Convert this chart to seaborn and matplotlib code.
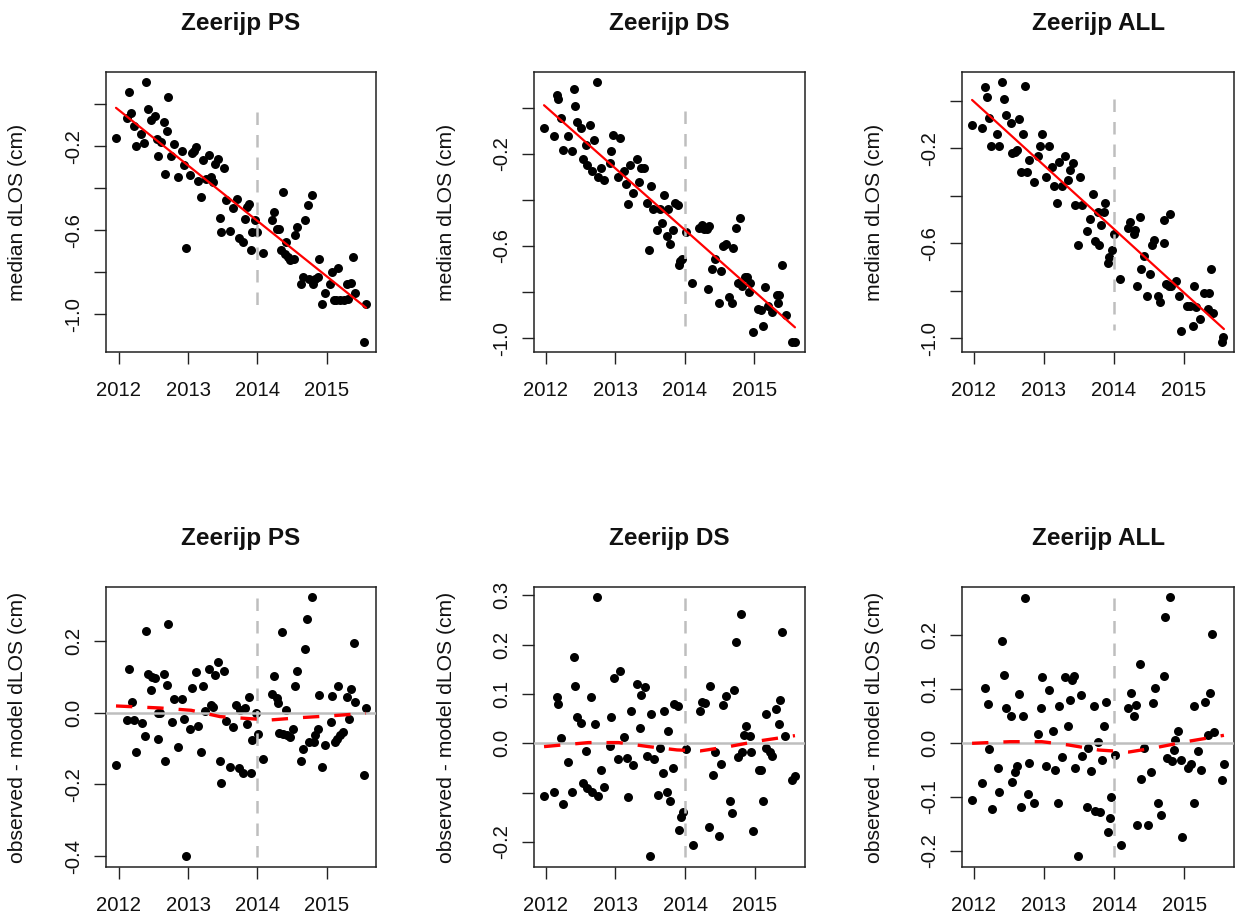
import matplotlib
matplotlib.use("Agg")
import matplotlib.pyplot as plt
import seaborn as sns

# ---------------- Zeerijp PS ----------------
ps_obs_t = [2011.957, 2012.144, 2012.120, 2012.177, 2012.215, 2012.239, 2012.325, 2012.368, 2012.388, 2012.421,
            2012.469, 2012.517, 2012.569, 2012.555, 2012.612, 2012.646, 2012.665, 2012.699, 2012.713, 2012.756,
            2012.794, 2012.847, 2012.909, 2012.938, 2012.971, 2013.033, 2013.053, 2013.115, 2013.081, 2013.144,
            2013.182, 2013.220, 2013.258, 2013.306, 2013.330, 2013.383, 2013.364, 2013.426, 2013.459, 2013.474,
            2013.512, 2013.545, 2013.608, 2013.641, 2013.703, 2013.737, 2013.785, 2013.823, 2013.856, 2013.885,
            2013.904, 2013.928, 2013.967, 2014.000, 2014.086, 2014.215, 2014.239, 2014.278, 2014.311, 2014.335,
            2014.368, 2014.397, 2014.416, 2014.445, 2014.478, 2014.526, 2014.550, 2014.574, 2014.636, 2014.656,
            2014.694, 2014.727, 2014.789, 2014.742, 2014.804, 2014.837, 2014.876, 2014.895, 2014.933, 2014.971,
            2015.053, 2015.077, 2015.100, 2015.163, 2015.134, 2015.196, 2015.244, 2015.292, 2015.316, 2015.354,
            2015.388, 2015.411, 2015.569, 2015.545]
ps_obs_v = [-0.160, 0.059, -0.068, -0.041, -0.103, -0.198, -0.140, -0.183, 0.103, -0.025,
            -0.076, -0.057, -0.246, -0.167, -0.179, -0.084, -0.333, -0.127, 0.033, -0.246,
            -0.192, -0.346, -0.224, -0.290, -0.683, -0.338, -0.235, -0.203, -0.224, -0.365,
            -0.444, -0.267, -0.354, -0.243, -0.346, -0.287, -0.370, -0.259, -0.541, -0.608,
            -0.303, -0.457, -0.603, -0.494, -0.449, -0.637, -0.656, -0.548, -0.489, -0.473,
            -0.695, -0.608, -0.552, -0.608, -0.708, -0.549, -0.513, -0.595, -0.592, -0.695,
            -0.417, -0.711, -0.656, -0.727, -0.743, -0.735, -0.624, -0.584, -0.854, -0.822,
            -0.552, -0.481, -0.430, -0.830, -0.854, -0.830, -0.822, -0.735, -0.952, -0.898,
            -0.854, -0.798, -0.933, -0.778, -0.933, -0.933, -0.930, -0.854, -0.925, -0.849,
            -0.727, -0.898, -0.951, -1.129]
ps_res_t = [2011.957, 2012.144, 2012.120, 2012.182, 2012.215, 2012.239, 2012.335, 2012.373, 2012.388, 2012.421,
            2012.459, 2012.483, 2012.517, 2012.565, 2012.569, 2012.589, 2012.646, 2012.665, 2012.699, 2012.713,
            2012.761, 2012.794, 2012.847, 2012.909, 2012.943, 2012.971, 2013.033, 2013.057, 2013.115, 2013.148,
            2013.182, 2013.220, 2013.249, 2013.306, 2013.330, 2013.364, 2013.383, 2013.426, 2013.459, 2013.474,
            2013.512, 2013.545, 2013.608, 2013.641, 2013.689, 2013.737, 2013.751, 2013.785, 2013.823, 2013.847,
            2013.880, 2013.904, 2013.928, 2013.976, 2014.005, 2014.086, 2014.215, 2014.239, 2014.278, 2014.301,
            2014.311, 2014.359, 2014.368, 2014.416, 2014.431, 2014.478, 2014.512, 2014.550, 2014.565, 2014.636,
            2014.656, 2014.694, 2014.722, 2014.742, 2014.789, 2014.813, 2014.837, 2014.876, 2014.895, 2014.933,
            2014.971, 2015.057, 2015.077, 2015.115, 2015.158, 2015.144, 2015.196, 2015.230, 2015.301, 2015.325,
            2015.354, 2015.392, 2015.416, 2015.545, 2015.569]
ps_res_v = [-0.147, 0.121, -0.020, 0.031, -0.020, -0.111, -0.028, -0.065, 0.228, 0.107,
            0.063, 0.100, 0.097, -0.002, -0.073, -0.002, 0.107, -0.134, 0.077, 0.246,
            -0.027, 0.038, -0.097, 0.038, -0.019, -0.398, -0.045, 0.068, 0.114, -0.037,
            -0.109, 0.074, 0.005, 0.121, 0.021, 0.017, 0.105, 0.140, -0.134, -0.195,
            0.117, -0.023, -0.152, -0.039, 0.021, -0.153, 0.007, -0.167, 0.012, -0.032,
            0.043, -0.169, -0.076, -0.002, -0.059, -0.130, 0.051, 0.103, 0.040, 0.028,
            -0.058, 0.224, -0.059, 0.006, -0.062, -0.067, -0.046, 0.074, 0.117, -0.136,
            -0.101, 0.177, 0.260, -0.081, 0.321, -0.083, -0.062, -0.046, 0.049, -0.152,
            -0.090, -0.027, 0.045, -0.083, 0.074, -0.074, -0.062, -0.053, 0.043, -0.019,
            0.065, 0.193, 0.029, -0.173, 0.014]
ps_trend_t = [2011.957, 2015.569]
ps_trend_v = [-0.018, -0.968]
ps_smooth_t = [2011.957, 2012.589, 2013.043, 2013.459, 2013.880, 2014.191, 2014.622, 2015.029, 2015.569]
ps_smooth_v = [0.0186, 0.013, 0.0065, -0.011, -0.0167, -0.0204, -0.0139, -0.0093, -0.0019]
ps_event_top = [-0.037, -0.973]
ps_event_bot = [0.318, -0.401]

# ---------------- Zeerijp DS ----------------
ds_obs_t = [2011.976, 2012.125, 2012.158, 2012.182, 2012.220, 2012.244, 2012.326, 2012.374, 2012.407, 2012.422,
            2012.455, 2012.508, 2012.541, 2012.580, 2012.589, 2012.637, 2012.661, 2012.700, 2012.733, 2012.748,
            2012.795, 2012.843, 2012.925, 2012.939, 2012.968, 2013.035, 2013.073, 2013.126, 2013.155, 2013.179,
            2013.217, 2013.251, 2013.308, 2013.346, 2013.371, 2013.418, 2013.452, 2013.490, 2013.514, 2013.548,
            2013.596, 2013.644, 2013.668, 2013.696, 2013.739, 2013.763, 2013.787, 2013.826, 2013.859, 2013.898,
            2013.917, 2013.936, 2013.965, 2014.017, 2014.108, 2014.204, 2014.243, 2014.281, 2014.314, 2014.353,
            2014.338, 2014.396, 2014.434, 2014.496, 2014.516, 2014.544, 2014.587, 2014.635, 2014.674, 2014.698,
            2014.731, 2014.794, 2014.760, 2014.818, 2014.865, 2014.889, 2014.923, 2014.937, 2014.976, 2015.057,
            2015.091, 2015.119, 2015.153, 2015.191, 2015.249, 2015.321, 2015.354, 2015.345, 2015.392, 2015.450,
            2015.536, 2015.584]
ds_obs_v = [-0.088, -0.123, 0.056, 0.039, -0.045, -0.185, -0.123, -0.190, 0.080, 0.006,
            -0.062, -0.088, -0.221, -0.164, -0.247, -0.074, -0.276, -0.139, 0.109, -0.301,
            -0.262, -0.313, -0.239, -0.190, -0.120, -0.301, -0.132, -0.276, -0.330, -0.417,
            -0.250, -0.369, -0.221, -0.323, -0.262, -0.262, -0.412, -0.619, -0.340, -0.441,
            -0.530, -0.441, -0.501, -0.378, -0.557, -0.441, -0.590, -0.530, -0.414, -0.421,
            -0.682, -0.663, -0.656, -0.540, -0.760, -0.521, -0.507, -0.528, -0.525, -0.511,
            -0.786, -0.699, -0.656, -0.848, -0.709, -0.598, -0.590, -0.819, -0.848, -0.609,
            -0.521, -0.479, -0.760, -0.774, -0.735, -0.735, -0.800, -0.760, -0.971, -0.873,
            -0.876, -0.948, -0.779, -0.861, -0.887, -0.810, -0.810, -0.848, -0.682, -0.899,
            -1.014, -1.014]
ds_res_t = [2011.976, 2012.125, 2012.158, 2012.182, 2012.220, 2012.254, 2012.326, 2012.374, 2012.407, 2012.422,
            2012.455, 2012.508, 2012.541, 2012.580, 2012.589, 2012.647, 2012.661, 2012.700, 2012.733, 2012.748,
            2012.795, 2012.843, 2012.915, 2012.939, 2012.973, 2013.035, 2013.069, 2013.126, 2013.165, 2013.179,
            2013.217, 2013.251, 2013.308, 2013.346, 2013.371, 2013.418, 2013.452, 2013.490, 2013.514, 2013.553,
            2013.605, 2013.644, 2013.677, 2013.696, 2013.739, 2013.754, 2013.787, 2013.826, 2013.845, 2013.893,
            2013.917, 2013.936, 2013.970, 2014.008, 2014.108, 2014.209, 2014.243, 2014.291, 2014.338, 2014.362,
            2014.401, 2014.434, 2014.492, 2014.516, 2014.544, 2014.587, 2014.640, 2014.674, 2014.698, 2014.731,
            2014.760, 2014.794, 2014.818, 2014.842, 2014.875, 2014.923, 2014.947, 2014.976, 2015.057, 2015.091,
            2015.119, 2015.153, 2015.162, 2015.215, 2015.249, 2015.306, 2015.345, 2015.359, 2015.392, 2015.431,
            2015.536, 2015.575]
ds_res_v = [-0.108, -0.098, 0.093, 0.079, 0.010, -0.124, -0.039, -0.099, 0.176, 0.116,
            0.054, 0.041, -0.081, -0.015, -0.091, 0.093, -0.098, 0.039, 0.296, -0.106,
            -0.055, -0.089, -0.005, 0.054, 0.132, -0.032, 0.147, 0.012, -0.030, -0.110,
            0.066, -0.045, 0.120, 0.030, 0.098, 0.114, -0.026, -0.228, 0.059, -0.032,
            -0.105, -0.009, -0.061, 0.066, -0.099, 0.025, -0.118, -0.051, 0.080, 0.076,
            -0.176, -0.149, -0.139, -0.011, -0.207, 0.066, 0.084, 0.082, -0.170, 0.116,
            -0.064, -0.017, -0.189, -0.043, 0.078, 0.096, -0.118, -0.142, 0.108, 0.205,
            -0.027, 0.262, -0.018, 0.017, 0.036, 0.015, -0.017, -0.179, -0.055, -0.055,
            -0.118, 0.059, -0.010, -0.017, -0.025, 0.069, 0.039, 0.088, 0.226, 0.014,
            -0.074, -0.066]
ds_trend_t = [2011.976, 2015.584]
ds_trend_v = [0.010, -0.952]
ds_smooth_t = [2011.976, 2012.613, 2013.045, 2013.476, 2013.883, 2014.218, 2014.626, 2015.057, 2015.575]
ds_smooth_v = [-0.0068, 0.0014, 0.0014, -0.0068, -0.0135, -0.0155, -0.0068, 0.0047, 0.0155]
ds_event_top = [-0.015, -0.957]
ds_event_bot = [0.294, -0.230]

# ---------------- Zeerijp ALL ----------------
all_obs_t = [2011.976, 2012.124, 2012.158, 2012.196, 2012.215, 2012.244, 2012.339, 2012.363, 2012.406, 2012.435,
             2012.454, 2012.526, 2012.549, 2012.588, 2012.612, 2012.645, 2012.669, 2012.698, 2012.731, 2012.765,
             2012.788, 2012.860, 2012.922, 2012.946, 2012.975, 2013.027, 2013.070, 2013.123, 2013.151, 2013.194,
             2013.218, 2013.257, 2013.304, 2013.343, 2013.376, 2013.414, 2013.448, 2013.486, 2013.524, 2013.548,
             2013.615, 2013.663, 2013.710, 2013.725, 2013.773, 2013.792, 2013.820, 2013.859, 2013.878, 2013.911,
             2013.935, 2013.973, 2014.007, 2014.093, 2014.198, 2014.236, 2014.284, 2014.308, 2014.332, 2014.370,
             2014.389, 2014.427, 2014.475, 2014.523, 2014.547, 2014.580, 2014.628, 2014.666, 2014.714, 2014.723,
             2014.800, 2014.747, 2014.786, 2014.824, 2014.895, 2014.938, 2014.967, 2015.048, 2015.096, 2015.129,
             2015.144, 2015.168, 2015.239, 2015.287, 2015.359, 2015.344, 2015.392, 2015.421, 2015.540, 2015.564]
all_obs_v = [-0.103, -0.114, 0.059, 0.017, -0.072, -0.191, -0.142, -0.191, 0.077, 0.007,
             -0.060, -0.093, -0.222, -0.215, -0.208, -0.079, -0.300, -0.142, 0.063, -0.300,
             -0.250, -0.342, -0.232, -0.191, -0.142, -0.321, -0.191, -0.278, -0.359, -0.429,
             -0.260, -0.359, -0.232, -0.335, -0.293, -0.262, -0.440, -0.609, -0.321, -0.440,
             -0.549, -0.499, -0.391, -0.591, -0.468, -0.609, -0.522, -0.468, -0.430, -0.682,
             -0.658, -0.630, -0.560, -0.750, -0.534, -0.511, -0.560, -0.546, -0.778, -0.489,
             -0.710, -0.655, -0.820, -0.729, -0.609, -0.588, -0.820, -0.848, -0.599, -0.501,
             -0.475, -0.771, -0.781, -0.781, -0.757, -0.820, -0.968, -0.865, -0.865, -0.949,
             -0.778, -0.869, -0.918, -0.810, -0.810, -0.876, -0.710, -0.893, -1.014, -0.996]
all_res_t = [2011.976, 2012.124, 2012.158, 2012.196, 2012.215, 2012.253, 2012.339, 2012.363, 2012.406, 2012.435,
             2012.454, 2012.526, 2012.549, 2012.588, 2012.621, 2012.645, 2012.678, 2012.698, 2012.731, 2012.769,
             2012.788, 2012.860, 2012.922, 2012.956, 2012.975, 2013.027, 2013.070, 2013.123, 2013.151, 2013.194,
             2013.218, 2013.257, 2013.304, 2013.343, 2013.376, 2013.400, 2013.433, 2013.448, 2013.486, 2013.524,
             2013.548, 2013.620, 2013.629, 2013.672, 2013.710, 2013.725, 2013.773, 2013.792, 2013.820, 2013.859,
             2013.878, 2013.911, 2013.935, 2013.959, 2014.007, 2014.093, 2014.198, 2014.246, 2014.284, 2014.308,
             2014.332, 2014.365, 2014.389, 2014.427, 2014.480, 2014.523, 2014.547, 2014.580, 2014.628, 2014.666,
             2014.704, 2014.723, 2014.752, 2014.800, 2014.819, 2014.848, 2014.867, 2014.905, 2014.953, 2014.967,
             2015.048, 2015.096, 2015.134, 2015.144, 2015.192, 2015.239, 2015.292, 2015.335, 2015.368, 2015.387,
             2015.421, 2015.535, 2015.564]
all_res_v = [-0.107, -0.075, 0.102, 0.071, -0.012, -0.123, -0.047, -0.091, 0.188, 0.126,
             0.065, 0.050, -0.072, -0.055, -0.044, 0.091, -0.120, 0.050, 0.267, -0.095,
             -0.038, -0.111, 0.016, 0.065, 0.121, -0.043, 0.097, 0.022, -0.051, -0.111,
             0.067, -0.026, 0.121, 0.030, 0.079, 0.116, 0.123, -0.047, -0.209, 0.088,
             -0.024, -0.120, -0.009, -0.052, 0.067, -0.126, 0.002, -0.129, -0.032, 0.030,
             0.076, -0.166, -0.139, -0.100, -0.022, -0.189, 0.065, 0.092, 0.049, 0.070,
             -0.152, 0.145, -0.067, -0.010, -0.152, -0.055, 0.073, 0.102, -0.112, -0.134,
             0.123, 0.233, -0.029, 0.269, -0.034, -0.014, 0.005, 0.022, -0.032, -0.174,
             -0.047, -0.039, -0.112, 0.067, -0.015, -0.051, 0.076, 0.014, 0.092, 0.202,
             0.019, -0.069, -0.040]
all_trend_t = [2011.976, 2015.574]
all_trend_v = [0.003, -0.961]
all_smooth_t = [2011.976, 2012.516, 2012.970, 2013.352, 2013.782, 2014.212, 2014.594, 2015.024, 2015.564]
all_smooth_v = [-0.0012, 0.0018, 0.0018, -0.0043, -0.0136, -0.0173, -0.0092, 0.0018, 0.0136]
all_event_top = [0.007, -0.963]
all_event_bot = [0.267, -0.211]

event_year = 2014.0
year_ticks = [2012, 2013, 2014, 2015]

top_yticks = [0.0, -0.2, -0.4, -0.6, -0.8, -1.0]
top_ylabels = ["", "-0.2", "", "-0.6", "", "-1.0"]
ps_res_yticks = [0.2, 0.0, -0.2, -0.4]
ps_res_ylabels = ["0.2", "0.0", "-0.2", "-0.4"]
ds_res_yticks = [0.3, 0.2, 0.1, 0.0, -0.1, -0.2]
ds_res_ylabels = ["0.3", "0.2", "0.1", "0.0", "", "-0.2"]
all_res_yticks = [0.2, 0.1, 0.0, -0.1, -0.2]
all_res_ylabels = ["0.2", "0.1", "0.0", "-0.1", "-0.2"]

titles = ["Zeerijp PS", "Zeerijp DS", "Zeerijp ALL"]

# ---------------- styling ----------------
sns.set_style("white")
plt.rcParams["font.family"] = ["Liberation Sans", "DejaVu Sans"]
plt.rcParams["axes.unicode_minus"] = False

W, H = 1240, 922
fig = plt.figure(figsize=(W / 100, H / 100), dpi=100)

# axes boxes in pixels: (left, right) per column, (top, bottom) per row
cols = [(106, 376), (534, 805), (962, 1234)]
rows = [(72, 352), (587, 867)]


def make_axes(c, r):
    l, rr = cols[c]
    t, b = rows[r]
    return fig.add_axes([l / W, 1 - b / H, (rr - l) / W, (b - t) / H])


def style_axes(ax, yticks, ylabels, title, ylabel, c, r):
    ax.margins(x=0.04, y=0.04)
    ax.autoscale_view()
    ax.set_xticks(year_ticks)
    ax.set_xticklabels([str(y) for y in year_ticks])
    ax.set_yticks(yticks)
    ax.set_yticklabels(ylabels, rotation=90, va="center")
    ax.tick_params(axis="both", direction="out", length=8.5, width=1.0, color="#222222",
                   labelsize=14.6, labelcolor="#111111", bottom=True, left=True)
    ax.tick_params(axis="x", pad=12.5)
    ax.tick_params(axis="y", pad=8)
    ax.set_xlabel("")
    ax.set_ylabel("")
    for s in ax.spines.values():
        s.set_visible(True)
        s.set_color("#222222")
        s.set_linewidth(1.1)
    l, rr = cols[c]
    t, b = rows[r]
    fig.text((l + rr) / 2 / W, 1 - (t - 42) / H, title, ha="center", va="baseline",
             fontsize=17.5, fontweight="bold", color="#111111")
    fig.text((l - 88) / W, 1 - (t + b) / 2 / H, ylabel, ha="center", va="center",
             rotation=90, fontsize=15.2, color="#111111")


obs = [(ps_obs_t, ps_obs_v, ps_trend_t, ps_trend_v, ps_event_top),
       (ds_obs_t, ds_obs_v, ds_trend_t, ds_trend_v, ds_event_top),
       (all_obs_t, all_obs_v, all_trend_t, all_trend_v, all_event_top)]
res = [(ps_res_t, ps_res_v, ps_smooth_t, ps_smooth_v, ps_event_bot, ps_res_yticks, ps_res_ylabels),
       (ds_res_t, ds_res_v, ds_smooth_t, ds_smooth_v, ds_event_bot, ds_res_yticks, ds_res_ylabels),
       (all_res_t, all_res_v, all_smooth_t, all_smooth_v, all_event_bot, all_res_yticks, all_res_ylabels)]

grey = "#bebebe"
dot_size = 42

for c in range(3):
    # observed displacement with linear trend
    t, v, tt, tv, ev = obs[c]
    ax = make_axes(c, 0)
    sns.scatterplot(x=t, y=v, ax=ax, color="black", s=dot_size, linewidth=0, zorder=2)
    ax.plot([event_year, event_year], ev, color=grey, lw=1.8, ls=(0, (5, 4)), zorder=3)
    sns.lineplot(x=tt, y=tv, ax=ax, color="red", lw=1.6, zorder=4, estimator=None)
    style_axes(ax, top_yticks, top_ylabels, titles[c], "median dLOS (cm)", c, 0)

    # residuals with smoothed curve
    t, v, st, sv, ev, yt, yl = res[c]
    ax = make_axes(c, 1)
    sns.scatterplot(x=t, y=v, ax=ax, color="black", s=dot_size, linewidth=0, zorder=2)
    ax.axhline(0, color=grey, lw=1.8, zorder=3)
    ax.plot([event_year, event_year], ev, color=grey, lw=1.8, ls=(0, (5, 4)), zorder=3)
    sns.lineplot(x=st, y=sv, ax=ax, color="red", lw=2.4, ls=(0, (4.9, 4.5)), zorder=4,
                 estimator=None)
    style_axes(ax, yt, yl, titles[c], "observed - model dLOS (cm)", c, 1)

fig.savefig("out.png", dpi=100, facecolor="white")
